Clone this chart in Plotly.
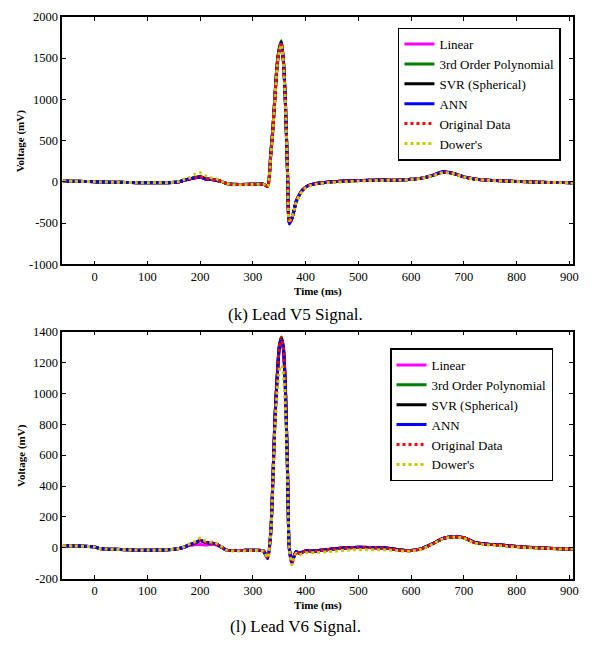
import plotly.graph_objects as go

# ---------------- data ----------------
TIME_MS = [-60, -40, -20, 0, 10, 20, 40, 60, 80, 100,
           120, 140, 160, 170, 180, 190, 200, 210, 220, 230,
           240, 250, 260, 280, 300, 320, 328, 334, 338, 342,
           346, 350, 354, 358, 362, 366, 369, 374, 378, 382,
           388, 394, 400, 410, 420, 440, 460, 480, 500, 520,
           540, 560, 580, 600, 620, 640, 660, 680, 700, 720,
           740, 760, 780, 800, 820, 840, 860, 880, 900, 910]

SERIES_NAMES = ["Linear", "3rd Order Polynomial", "SVR (Spherical)", "ANN",
                "Original Data", "Dower's"]

# Lead V5
V5_LINEAR = [10, 8, 5, 0, -2, -3, -5, -8, -10, -12,
             -12, -10, 0, 18, 32, 45, 55, 38, 28, 18,
             5, -20, -30, -32, -30, -28, -50, 330, 640, 1040,
             1400, 1590, 1680, 1450, 910, 60, -490, -440, -350, -240,
             -160, -100, -65, -35, -20, -5, 5, 10, 15, 18,
             22, 20, 22, 30, 45, 75, 116, 100, 60, 35,
             22, 15, 10, 5, 0, -5, -8, -8, -10, -10]
V5_POLY = [10, 8, 5, 0, -2, -3, -5, -8, -10, -12,
           -12, -10, 0, 20, 35, 50, 60, 40, 30, 20,
           5, -20, -30, -32, -30, -28, -55, 345, 655, 1060,
           1430, 1620, 1710, 1460, 900, 45, -510, -445, -350, -240,
           -160, -100, -65, -35, -20, -5, 5, 10, 15, 18,
           22, 20, 22, 30, 45, 75, 118, 100, 60, 35,
           22, 15, 10, 5, 0, -5, -8, -8, -10, -10]
V5_SVR = [10, 8, 5, 0, -2, -3, -5, -8, -10, -12,
          -12, -10, 0, 20, 35, 50, 62, 40, 30, 20,
          5, -20, -30, -32, -30, -28, -55, 340, 650, 1050,
          1420, 1605, 1695, 1450, 900, 50, -500, -440, -350, -240,
          -160, -100, -65, -35, -20, -5, 5, 10, 15, 18,
          22, 20, 22, 30, 45, 75, 118, 100, 60, 35,
          22, 15, 10, 5, 0, -5, -8, -8, -10, -10]
V5_ANN = [10, 8, 5, 0, -2, -3, -5, -8, -10, -12,
          -12, -10, 0, 20, 35, 50, 58, 30, 28, 20,
          5, -20, -30, -32, -30, -28, -55, 340, 650, 1045,
          1410, 1595, 1680, 1450, 905, 45, -510, -445, -350, -240,
          -160, -100, -65, -35, -20, -5, 5, 10, 15, 18,
          22, 20, 22, 30, 45, 78, 125, 102, 60, 35,
          22, 15, 10, 5, 0, -5, -8, -8, -10, -10]
V5_ORIG = [10, 8, 5, 0, -2, -3, -5, -8, -10, -12,
           -12, -10, 0, 20, 35, 50, 62, 40, 30, 20,
           5, -20, -30, -32, -30, -28, -55, 340, 650, 1050,
           1420, 1600, 1690, 1450, 900, 50, -500, -440, -350, -240,
           -160, -100, -65, -35, -20, -5, 5, 10, 15, 18,
           22, 20, 22, 30, 45, 75, 118, 100, 60, 35,
           22, 15, 10, 5, 0, -5, -8, -8, -10, -10]
V5_DOWER = [10, 8, 5, 0, -2, -3, -5, -8, -10, -12,
            -12, -10, 5, 30, 50, 90, 110, 75, 50, 35,
            10, -20, -35, -35, -32, -30, -60, 320, 630, 1030,
            1400, 1580, 1660, 1420, 880, 60, -470, -430, -345, -250,
            -170, -110, -75, -45, -28, -12, -5, 2, 8, 12,
            16, 18, 20, 28, 42, 72, 110, 98, 58, 32,
            20, 12, 8, 2, -2, -6, -8, -10, -10, -10]

# Lead V6
V6_LINEAR = [13, 12, 10, 6, -5, -8, -10, -13, -15, -15,
             -15, -13, -5, 3, 15, 20, 22, 18, 22, 20,
             3, -15, -18, -17, -16, -20, -70, 95, 440, 840,
             1090, 1285, 1340, 1275, 990, 440, -10, -105, -60, -25,
             -35, -28, -20, -20, -20, -12, -5, 0, 3, 2,
             0, -5, -15, -18, -5, 25, 60, 72, 65, 35,
             25, 20, 15, 8, 3, 0, -3, -6, -8, -8]
V6_POLY = [13, 12, 10, 6, -5, -8, -10, -13, -15, -15,
           -15, -13, -5, 5, 20, 30, 48, 35, 30, 25,
           5, -15, -18, -17, -16, -20, -67, 100, 455, 855,
           1105, 1305, 1365, 1295, 1000, 450, 0, -92, -55, -25,
           -35, -28, -20, -20, -20, -12, -5, 0, 3, 2,
           0, -5, -15, -18, -5, 25, 60, 72, 65, 35,
           25, 20, 15, 8, 3, 0, -3, -6, -8, -8]
V6_SVR = [13, 12, 10, 6, -5, -8, -10, -13, -15, -15,
          -15, -13, -5, 5, 20, 30, 49, 35, 30, 25,
          5, -15, -18, -17, -16, -20, -67, 100, 450, 850,
          1100, 1300, 1360, 1290, 1000, 450, 0, -92, -55, -25,
          -35, -28, -20, -20, -20, -12, -5, 0, 3, 2,
          0, -5, -15, -18, -5, 25, 60, 72, 65, 35,
          25, 20, 15, 8, 3, 0, -3, -6, -8, -8]
V6_ANN = [13, 12, 10, 6, -5, -8, -10, -13, -15, -15,
          -15, -13, -5, 5, 20, 30, 47, 35, 30, 25,
          5, -15, -18, -17, -16, -20, -67, 100, 445, 845,
          1095, 1295, 1350, 1285, 1000, 450, 0, -88, -55, -25,
          -35, -28, -20, -20, -20, -12, -5, 0, 3, 2,
          0, -5, -15, -18, -5, 25, 60, 72, 65, 35,
          25, 20, 15, 8, 3, 0, -3, -6, -8, -8]
V6_ORIG = [13, 12, 10, 6, -5, -8, -10, -13, -15, -15,
           -15, -13, -5, 5, 20, 30, 49, 35, 30, 25,
           5, -15, -18, -17, -16, -20, -67, 100, 450, 850,
           1100, 1300, 1360, 1290, 1000, 450, 0, -92, -55, -25,
           -35, -28, -20, -20, -20, -12, -5, 0, 3, 2,
           0, -5, -15, -18, -5, 25, 60, 72, 65, 35,
           25, 20, 15, 8, 3, 0, -3, -6, -8, -8]
V6_DOWER = [13, 12, 10, 6, -5, -8, -10, -13, -15, -15,
            -15, -13, -5, 8, 25, 40, 63, 45, 38, 30,
            8, -15, -20, -20, -18, -22, -65, 90, 420, 780,
            1000, 1150, 1180, 1120, 870, 400, -10, -110, -70, -35,
            -45, -38, -32, -32, -30, -25, -20, -15, -12, -12,
            -12, -15, -20, -22, -8, 22, 58, 70, 62, 30,
            20, 15, 10, 5, 0, -2, -5, -8, -8, -8]

X_TICKS = [0, 100, 200, 300, 400, 500, 600, 700, 800, 900]
Y5_TICKS = [-1000, -500, 0, 500, 1000, 1500, 2000]
Y6_TICKS = [-200, 0, 200, 400, 600, 800, 1000, 1200, 1400]

CAPTIONS = ["(k) Lead V5 Signal.", "(l) Lead V6 Signal."]

# ---------------- styling ----------------
COLORS = ["#ff00ff", "#008000", "#000000", "#0000ff", "#ff0000", "#c8c800"]
DASHES = ["solid", "solid", "solid", "solid", "dot", "dot"]
SERIF = "Liberation Serif"

W, H = 595, 649
fig = go.Figure()

leads = [
    ([V5_LINEAR, V5_POLY, V5_SVR, V5_ANN, V5_ORIG, V5_DOWER], "x", "y", "legend"),
    ([V6_LINEAR, V6_POLY, V6_SVR, V6_ANN, V6_ORIG, V6_DOWER], "x2", "y2", "legend2"),
]
for series, xa, ya, lg in leads:
    for name, vals, col, dash in zip(SERIES_NAMES, series, COLORS, DASHES):
        fig.add_trace(go.Scatter(
            x=TIME_MS, y=vals, name=name, mode="lines",
            line=dict(color=col, width=3, dash=dash, shape="spline", smoothing=0.6),
            xaxis=xa, yaxis=ya, legend=lg))

def px_x(p):
    return p / W

def px_y(p):
    return 1 - p / H

axis_common = dict(showline=True, linecolor="black", linewidth=1.5, mirror="ticks",
                   ticks="inside", ticklen=4, tickwidth=1, tickcolor="black",
                   showgrid=False, zeroline=False,
                   tickfont=dict(family=SERIF, size=12.5, color="black"))

xdom = [px_x(63), px_x(579)]
fig.update_layout(
    width=W, height=H, margin=dict(l=0, r=0, t=0, b=0),
    paper_bgcolor="white", plot_bgcolor="white",
    font=dict(family=SERIF, color="black"),
    xaxis=dict(domain=xdom, range=[-61, 907], tickvals=X_TICKS, anchor="y", **axis_common),
    yaxis=dict(domain=[px_y(263), px_y(10)], range=[-1000, 2000], tickvals=Y5_TICKS,
               ticktext=[str(v) for v in Y5_TICKS], anchor="x", **axis_common),
    xaxis2=dict(domain=xdom, range=[-61, 907], tickvals=X_TICKS, anchor="y2", **axis_common),
    yaxis2=dict(domain=[px_y(584.3), px_y(331.7)], range=[-200, 1400], tickvals=Y6_TICKS,
                ticktext=[str(v) for v in Y6_TICKS], anchor="x2", **axis_common),
    legend=dict(x=px_x(402), y=px_y(21), xanchor="left", yanchor="top",
                bordercolor="black", borderwidth=1.5, bgcolor="white",
                font=dict(family=SERIF, size=13, color="black"),
                itemwidth=30, tracegroupgap=0),
    legend2=dict(x=px_x(394), y=px_y(349), xanchor="left", yanchor="top",
                 bordercolor="black", borderwidth=1.5, bgcolor="white",
                 font=dict(family=SERIF, size=13, color="black"),
                 itemwidth=30, tracegroupgap=0),
)

ann = []
for yc in [291, 612]:
    ann.append(dict(text="<b>Time (ms)</b>", x=px_x(321), y=px_y(yc), xref="paper", yref="paper",
                    showarrow=False, font=dict(family=SERIF, size=11, color="black"),
                    xanchor="center", yanchor="middle", borderpad=0))
for yc in [136.5, 458]:
    ann.append(dict(text="<b>Voltage (mV)</b>", x=px_x(21), y=px_y(yc), xref="paper", yref="paper",
                    showarrow=False, textangle=-90, font=dict(family=SERIF, size=11, color="black"),
                    xanchor="center", yanchor="middle"))
for cap, yc in zip(CAPTIONS, [314, 633]):
    ann.append(dict(text=cap, x=px_x(299), y=px_y(yc), xref="paper", yref="paper",
                    showarrow=False, font=dict(family=SERIF, size=17, color="black"),
                    xanchor="center", yanchor="middle"))
fig.update_layout(annotations=ann)

fig.write_html("out.html", config={"displayModeBar": False},
               post_script="document.body.style.margin='0';")
